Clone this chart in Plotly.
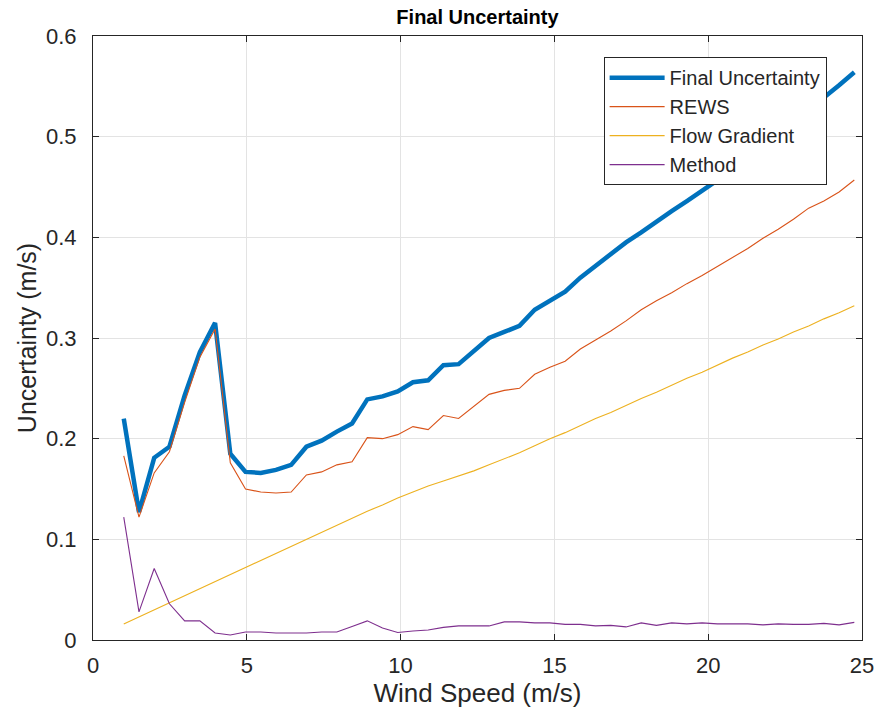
import numpy as np
import plotly.graph_objects as go

# Wind speed grid (49 bins between 1 and 24.75 m/s)
wind_speed = np.linspace(1.0, 24.75, 49)

final_uncertainty = [
    0.220, 0.127, 0.181, 0.192, 0.243, 0.286, 0.315, 0.185, 0.167, 0.166,
    0.169, 0.174, 0.192, 0.198, 0.207, 0.215, 0.239, 0.242, 0.247, 0.256,
    0.258, 0.273, 0.274, 0.287, 0.300, 0.306, 0.312, 0.328, 0.337, 0.346,
    0.360, 0.372, 0.383, 0.395, 0.405, 0.416, 0.426, 0.436, 0.446, 0.456,
    0.467, 0.478, 0.490, 0.502, 0.514, 0.526, 0.538, 0.551, 0.564,
]
rews = [
    0.183, 0.122, 0.166, 0.187, 0.236, 0.281, 0.309, 0.176, 0.150, 0.147,
    0.146, 0.147, 0.164, 0.167, 0.174, 0.177, 0.201, 0.200, 0.204, 0.212,
    0.209, 0.223, 0.220, 0.232, 0.244, 0.248, 0.250, 0.264, 0.271, 0.277,
    0.289, 0.298, 0.307, 0.317, 0.328, 0.337, 0.345, 0.354, 0.362, 0.371,
    0.380, 0.389, 0.399, 0.408, 0.418, 0.429, 0.436, 0.445, 0.457,
]
flow_gradient = [
    0.016, 0.023, 0.030, 0.037, 0.044, 0.051, 0.058, 0.065, 0.072, 0.079,
    0.086, 0.093, 0.100, 0.107, 0.114, 0.121, 0.128, 0.134, 0.141, 0.147,
    0.153, 0.158, 0.163, 0.168, 0.174, 0.180, 0.186, 0.193, 0.200, 0.206,
    0.213, 0.220, 0.226, 0.233, 0.240, 0.246, 0.253, 0.260, 0.266, 0.273,
    0.280, 0.286, 0.293, 0.299, 0.306, 0.312, 0.319, 0.325, 0.332,
]
method = [
    0.122, 0.028, 0.071, 0.036, 0.019, 0.019, 0.007, 0.005, 0.008, 0.008,
    0.007, 0.007, 0.007, 0.008, 0.008, 0.0135, 0.019, 0.012, 0.0075, 0.009,
    0.010, 0.0125, 0.014, 0.014, 0.014, 0.018, 0.018, 0.017, 0.017, 0.0155,
    0.0155, 0.014, 0.0145, 0.013, 0.017, 0.0145, 0.017, 0.016, 0.017, 0.016,
    0.016, 0.016, 0.015, 0.016, 0.0155, 0.0155, 0.0165, 0.015, 0.0175,
]

series = [
    ("Final Uncertainty", final_uncertainty, "#0072BD", 4.5),
    ("REWS", rews, "#D95319", 1.1),
    ("Flow Gradient", flow_gradient, "#EDB120", 1.1),
    ("Method", method, "#7E2F8E", 1.1),
]

x_ticks = [0, 5, 10, 15, 20, 25]
y_ticks = [0, 0.1, 0.2, 0.3, 0.4, 0.5, 0.6]
y_tick_text = ["0", "0.1", "0.2", "0.3", "0.4", "0.5", "0.6"]

FONT = "Liberation Sans, Arial, Helvetica, sans-serif"
AX = "#262626"

fig = go.Figure()
for name, vals, color, width in series:
    fig.add_trace(go.Scatter(x=wind_speed, y=vals, mode="lines", name=name,
                             line=dict(color=color, width=width)))

axis_common = dict(
    showline=True, linecolor=AX, linewidth=1, mirror="ticks",
    ticks="inside", ticklen=6, tickcolor=AX, tickwidth=1,
    showgrid=True, gridcolor="#e3e3e3", gridwidth=1,
    zeroline=False, tickfont=dict(family=FONT, size=22, color=AX),
)

fig.update_layout(
    width=891, height=717,
    margin=dict(l=93, r=29, t=36, b=77),
    paper_bgcolor="white", plot_bgcolor="white",
    title=dict(text="<b>Final Uncertainty</b>", x=(93 + 862) / 2 / 891, xanchor="center",
               y=1 - 17 / 717, yanchor="middle",
               font=dict(family=FONT, size=20, color="black")),
    xaxis=dict(range=[0, 25], tickvals=x_ticks, ticklabelstandoff=6,
               title=dict(text="Wind Speed (m/s)", standoff=4,
                          font=dict(family=FONT, size=26, color=AX)),
               **axis_common),
    yaxis=dict(range=[0, 0.6], tickvals=y_ticks, ticktext=y_tick_text,
               ticklabelstandoff=11,
               title=dict(text="Uncertainty (m/s)", standoff=2,
                          font=dict(family=FONT, size=25, color=AX)),
               **axis_common),
    legend=dict(x=0.664, y=0.965, xanchor="left", yanchor="top",
                bgcolor="white", bordercolor=AX, borderwidth=1,
                font=dict(family=FONT, size=20, color=AX),
                tracegroupgap=0, itemwidth=55),
    showlegend=True,
)

fig.write_html("out.html")
